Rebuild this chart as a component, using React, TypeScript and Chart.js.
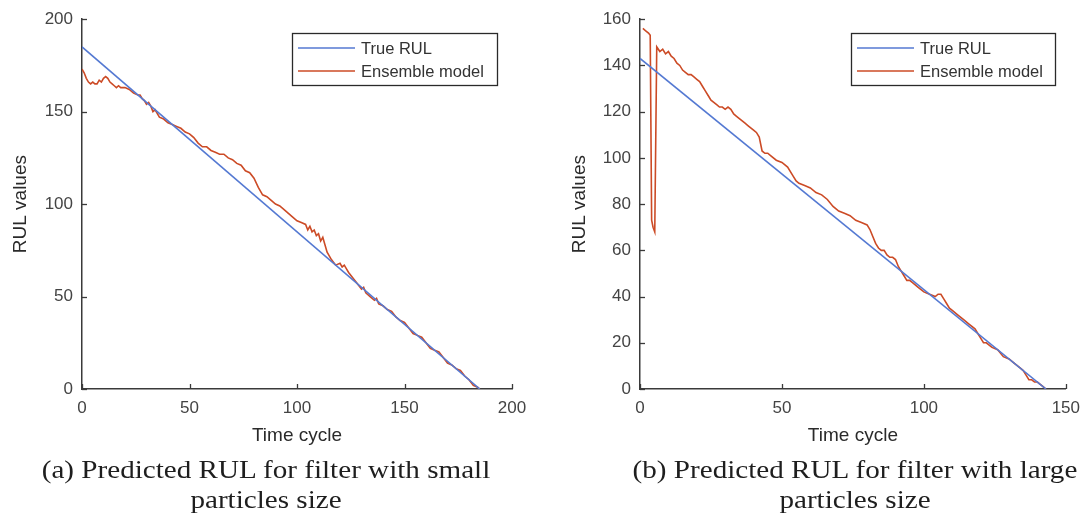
import React, { useEffect, useRef } from "react";
import { Chart, registerables } from "chart.js";

Chart.register(...registerables);

// ---------- DATA ----------
const legendLabels = ["True RUL", "Ensemble model"];
const xTitle = "Time cycle";
const yTitle = "RUL values";

// (a) small particles
const aTrueCycles = [0, 185];
const aTrueRul = [185, 0];
const aEnsCycles = [0, 1, 2, 3, 4, 5, 6, 7, 8, 9, 10, 11, 12, 13, 14, 15, 16, 17, 18, 20, 22, 24, 26, 27, 28, 29, 30, 31, 32, 33, 34, 36, 38, 40, 42, 44, 46, 48, 50, 52, 54, 56, 58, 60, 62, 64, 66, 68, 70, 72, 74, 76, 78, 80, 82, 84, 86, 88, 90, 92, 94, 96, 98, 100, 102, 104, 105, 106, 107, 108, 109, 110, 111, 112, 113, 114, 115, 116, 118, 120, 121, 122, 123, 124, 126, 128, 130, 131, 132, 134, 136, 137, 138, 140, 142, 144, 146, 148, 150, 152, 154, 156, 158, 160, 162, 164, 166, 168, 170, 172, 174, 176, 178, 180, 182, 184, 185];
const aEnsRul = [173, 171, 168, 166, 165, 166, 165, 165, 167, 166, 168, 169, 168, 166, 165, 164, 163, 164, 163, 163, 162, 160, 159, 159, 157, 156, 154, 155, 153, 150, 151, 147, 146, 144, 143, 142, 141, 139, 138, 136, 133, 131, 131, 129, 128, 127, 127, 125, 124, 122, 121, 118, 117, 114, 109, 105, 104, 102, 100, 99, 97, 95, 93, 91, 90, 89, 86, 88, 85, 86, 83, 84, 80, 82, 78, 74, 72, 70, 67, 68, 66, 67, 65, 63, 60, 57, 54, 55, 52, 50, 48, 49, 46, 45, 43, 42, 39, 37, 36, 33, 30, 29, 28, 25, 22, 21, 20, 17, 14, 13, 11, 10, 7, 5, 2, 1, 0];
const aXTicks = [0, 50, 100, 150, 200];
const aYTicks = [0, 50, 100, 150, 200];
const aCaption = ["(a) Predicted RUL for filter with small", "particles size"];

// (b) large particles
const bTrueCycles = [0, 143];
const bTrueRul = [143, 0];
const bEnsCycles = [1, 2, 3, 3.6, 4.1, 4.6, 5.2, 5.9, 7, 8, 9, 10, 11, 12, 13, 14, 15, 16, 17, 18, 19, 20, 21, 22, 23, 24, 25, 26, 27, 28, 29, 30, 31, 32, 33, 34, 35, 36, 37, 38, 39, 40, 41, 42, 43, 44, 45, 46, 48, 50, 52, 54, 55, 56, 58, 60, 62, 64, 66, 68, 70, 72, 74, 76, 78, 80, 81, 82, 83, 84, 85, 86, 87, 88, 89, 90, 91, 92, 93, 94, 95, 96, 98, 100, 102, 104, 105, 106, 107, 108, 109, 110, 112, 114, 116, 118, 119, 120, 121, 122, 123, 124, 126, 128, 130, 132, 134, 135, 136, 137, 138, 139, 140, 141, 142, 143];
const bEnsRul = [156, 155, 154, 153, 73, 70, 68, 148, 146, 147, 145, 146, 144, 143, 141, 140, 138, 137, 136, 136, 135, 134, 133, 131, 129, 127, 125, 124, 123, 122, 122, 121, 122, 121, 119, 118, 117, 116, 115, 114, 113, 112, 111, 109, 103, 102, 102, 101, 99, 98, 96, 92, 90, 89, 88, 87, 85, 84, 82, 79, 77, 76, 75, 73, 72, 71, 69, 66, 63, 61, 60, 60, 58, 57, 57, 56, 53, 51, 49, 47, 47, 46, 44, 42, 41, 40, 41, 41, 39, 37, 35, 34, 32, 30, 28, 26, 24, 22, 20, 20, 19, 18, 17, 14, 13, 11, 9, 8, 6, 4, 4, 3, 3, 2, 1, 0];
const bXTicks = [0, 50, 100, 150];
const bYTicks = [0, 20, 40, 60, 80, 100, 120, 140, 160];
const bCaption = ["(b) Predicted RUL for filter with large", "particles size"];

// ---------- STYLE ----------
const BLUE = "#5479D2";
const RED = "#CC4B26";
const AXIS = "#3a3a3a";
const TEXT = "#444444";
const SANS = "'Liberation Sans', Arial, sans-serif";

const toPts = (xs: number[], ys: number[]) => xs.map((x, i) => ({ x, y: ys[i] }));

type PanelProps = {
  width: number;
  height: number;
  yAxisWidth: number;
  rightPad: number;
  yTitleOffset: number;
  trueX: number[];
  trueY: number[];
  ensX: number[];
  ensY: number[];
  xTicks: number[];
  yTicks: number[];
  legendBox: { x: number; y: number; w: number; h: number };
};

const innerTicks = {
  id: "innerTicks",
  afterDatasetsDraw(chart: any) {
    const { ctx, chartArea, scales } = chart;
    ctx.save();
    ctx.strokeStyle = AXIS;
    ctx.lineWidth = 1.3;
    scales.x.ticks.forEach((t: any) => {
      const px = Math.round(scales.x.getPixelForValue(t.value)) + 0.5;
      ctx.beginPath();
      ctx.moveTo(px, chartArea.bottom);
      ctx.lineTo(px, chartArea.bottom - 5);
      ctx.stroke();
    });
    scales.y.ticks.forEach((t: any) => {
      const py = Math.round(scales.y.getPixelForValue(t.value)) + 0.5;
      ctx.beginPath();
      ctx.moveTo(chartArea.left, py);
      ctx.lineTo(chartArea.left + 5, py);
      ctx.stroke();
    });
    ctx.restore();
  },
};

const boxLegend = {
  id: "boxLegend",
  afterDraw(chart: any, _args: any, opts: any) {
    const { ctx } = chart;
    const b = opts.box;
    ctx.save();
    ctx.fillStyle = "#ffffff";
    ctx.fillRect(b.x, b.y, b.w, b.h);
    ctx.strokeStyle = "#2a2a2a";
    ctx.lineWidth = 1.3;
    ctx.strokeRect(b.x + 0.5, b.y + 0.5, b.w, b.h);
    const colors = [BLUE, RED];
    ctx.font = `16.5px ${SANS}`;
    ctx.textBaseline = "middle";
    ctx.fillStyle = "#333";
    legendLabels.forEach((lbl, i) => {
      const cy = b.y + 15 + i * 23;
      ctx.strokeStyle = colors[i];
      ctx.lineWidth = 1.6;
      ctx.beginPath();
      ctx.moveTo(b.x + 6, cy);
      ctx.lineTo(b.x + 63, cy);
      ctx.stroke();
      ctx.fillText(lbl, b.x + 69, cy + 1);
    });
    ctx.restore();
  },
};

function Panel(p: PanelProps) {
  const ref = useRef<HTMLCanvasElement | null>(null);
  useEffect(() => {
    if (!ref.current) return;
    const tickFont = { family: SANS, size: 17 };
    const titleFont = { family: SANS, size: 19 };
    const chart = new Chart(ref.current, {
      type: "line",
      data: {
        datasets: [
          {
            label: legendLabels[0],
            data: toPts(p.trueX, p.trueY),
            borderColor: BLUE,
            borderWidth: 1.6,
            pointRadius: 0,
            tension: 0,
          },
          {
            label: legendLabels[1],
            data: toPts(p.ensX, p.ensY),
            borderColor: RED,
            borderWidth: 1.6,
            pointRadius: 0,
            tension: 0,
          },
        ],
      },
      options: {
        responsive: false,
        animation: false,
        devicePixelRatio: 1,
        layout: { padding: { top: 19, right: p.rightPad, left: 0, bottom: 0 } },
        plugins: {
          legend: { display: false },
          tooltip: { enabled: false },
          boxLegend: { box: p.legendBox },
        } as any,
        scales: {
          x: {
            type: "linear",
            min: p.xTicks[0],
            max: p.xTicks[p.xTicks.length - 1],
            afterBuildTicks: (s: any) => {
              s.ticks = p.xTicks.map((v) => ({ value: v }));
            },
            afterFit: (s: any) => {
              s.height = p.height - 389;
            },
            ticks: { font: tickFont, color: TEXT, padding: 9, maxRotation: 0 },
            grid: { display: false, drawTicks: false },
            border: { display: true, color: AXIS, width: 1.5 },
            title: {
              display: true,
              text: xTitle,
              font: titleFont,
              color: "#2a2a2a",
              padding: { top: 0, bottom: 13 },
            },
          },
          y: {
            type: "linear",
            min: p.yTicks[0],
            max: p.yTicks[p.yTicks.length - 1],
            afterBuildTicks: (s: any) => {
              s.ticks = p.yTicks.map((v) => ({ value: v }));
            },
            afterFit: (s: any) => {
              s.width = p.yAxisWidth;
            },
            ticks: { font: tickFont, color: TEXT, padding: 9 },
            grid: { display: false, drawTicks: false },
            border: { display: true, color: AXIS, width: 1.5 },
            title: {
              display: true,
              text: yTitle,
              font: titleFont,
              color: "#2a2a2a",
              padding: { top: p.yTitleOffset, bottom: 0 },
            },
          },
        },
      } as any,
      plugins: [innerTicks, boxLegend],
    });
    return () => chart.destroy();
  }, []);
  return (
    <canvas
      ref={ref}
      width={p.width}
      height={p.height}
      style={{ width: p.width, height: p.height, display: "block" }}
    />
  );
}

function Caption({ lines, center }: { lines: string[]; center: number }) {
  return (
    <div
      style={{
        position: "absolute",
        left: center - 300,
        width: 600,
        top: 455,
        textAlign: "center",
        fontFamily: "'Liberation Serif', 'Times New Roman', serif",
        fontSize: 26,
        lineHeight: "30px",
        color: "#1e1e1e",
      }}
    >
      {lines.map((l, i) => (
        <div key={i} style={{ transform: "scaleX(1.12)", whiteSpace: "nowrap" }}>
          {l}
        </div>
      ))}
    </div>
  );
}

export default function App() {
  const H = 460;
  return (
    <div
      style={{
        position: "absolute",
        left: 0,
        top: 0,
        width: 1089,
        height: 532,
        background: "#fff",
        overflow: "hidden",
      }}
    >
      <div style={{ position: "absolute", left: 0, top: 0 }}>
        <Panel
          width={548}
          height={H}
          yAxisWidth={82}
          rightPad={36}
          yTitleOffset={9}
          trueX={aTrueCycles}
          trueY={aTrueRul}
          ensX={aEnsCycles}
          ensY={aEnsRul}
          xTicks={aXTicks}
          yTicks={aYTicks}
          legendBox={{ x: 292, y: 33, w: 205, h: 52 }}
        />
      </div>
      <div style={{ position: "absolute", left: 548, top: 0 }}>
        <Panel
          width={541}
          height={H}
          yAxisWidth={92}
          rightPad={19}
          yTitleOffset={20}
          trueX={bTrueCycles}
          trueY={bTrueRul}
          ensX={bEnsCycles}
          ensY={bEnsRul}
          xTicks={bXTicks}
          yTicks={bYTicks}
          legendBox={{ x: 851 - 548, y: 33, w: 204, h: 52 }}
        />
      </div>
      <Caption lines={aCaption} center={266} />
      <Caption lines={bCaption} center={855} />
    </div>
  );
}
